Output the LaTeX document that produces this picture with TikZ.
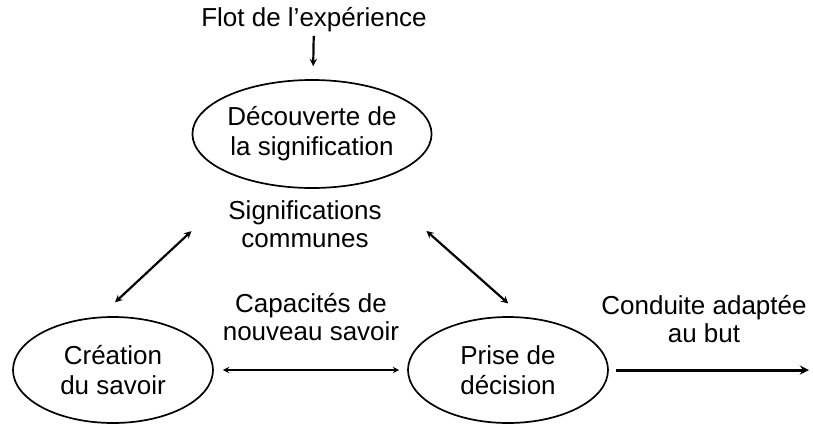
\documentclass[tikz,border=0pt]{standalone}
\usepackage{fontspec}
\setmainfont{Liberation Sans}
\usetikzlibrary{shapes.geometric,arrows}

\begin{document}
\begin{tikzpicture}[x=1pt,y=-1pt,>=stealth,
etape/.style={ellipse,draw,line width=1.7pt,minimum width=200pt,
minimum height=106pt,inner sep=0pt,align=center,
font=\fontsize{26}{30}\selectfont},
lien/.style={align=center,font=\fontsize{26}{28}\selectfont}]
\useasboundingbox (0,0) rectangle (813,429);
\node[etape,minimum height=108pt] (dec) at (312,134) {Découverte de\\la signification};
\node[etape] (cre) at (113,370) {Création\\du savoir};
\node[etape] (pri) at (508,370) {Prise de\\décision};
\node[lien] (flot) at (314,20) {Flot de l'expérience};
\node[lien] (sig) at (305,224) {Significations\\communes};
\node[lien] (cap) at (311,317) {Capacités de\\nouveau savoir};
\node[lien] (but) at (704,319) {Conduite adaptée\\au but};
\coordinate (fin) at (809,370);
\path[->,line width=2.2pt]
(flot) edge[shorten >=13pt] (dec);
\path[<->,line width=2.2pt]
(cre.104) edge[shorten <=21pt,shorten >=75pt] (dec.215)
(dec.-39) edge[shorten <=74pt,shorten >=20pt] (pri.74)
(cre.east) edge[line width=1.8pt,shorten <=9pt,shorten >=8pt] (pri.west);
\draw[->,line width=3pt] (pri.east) ++(7,0) -- (fin);
\end{tikzpicture}
\end{document}
